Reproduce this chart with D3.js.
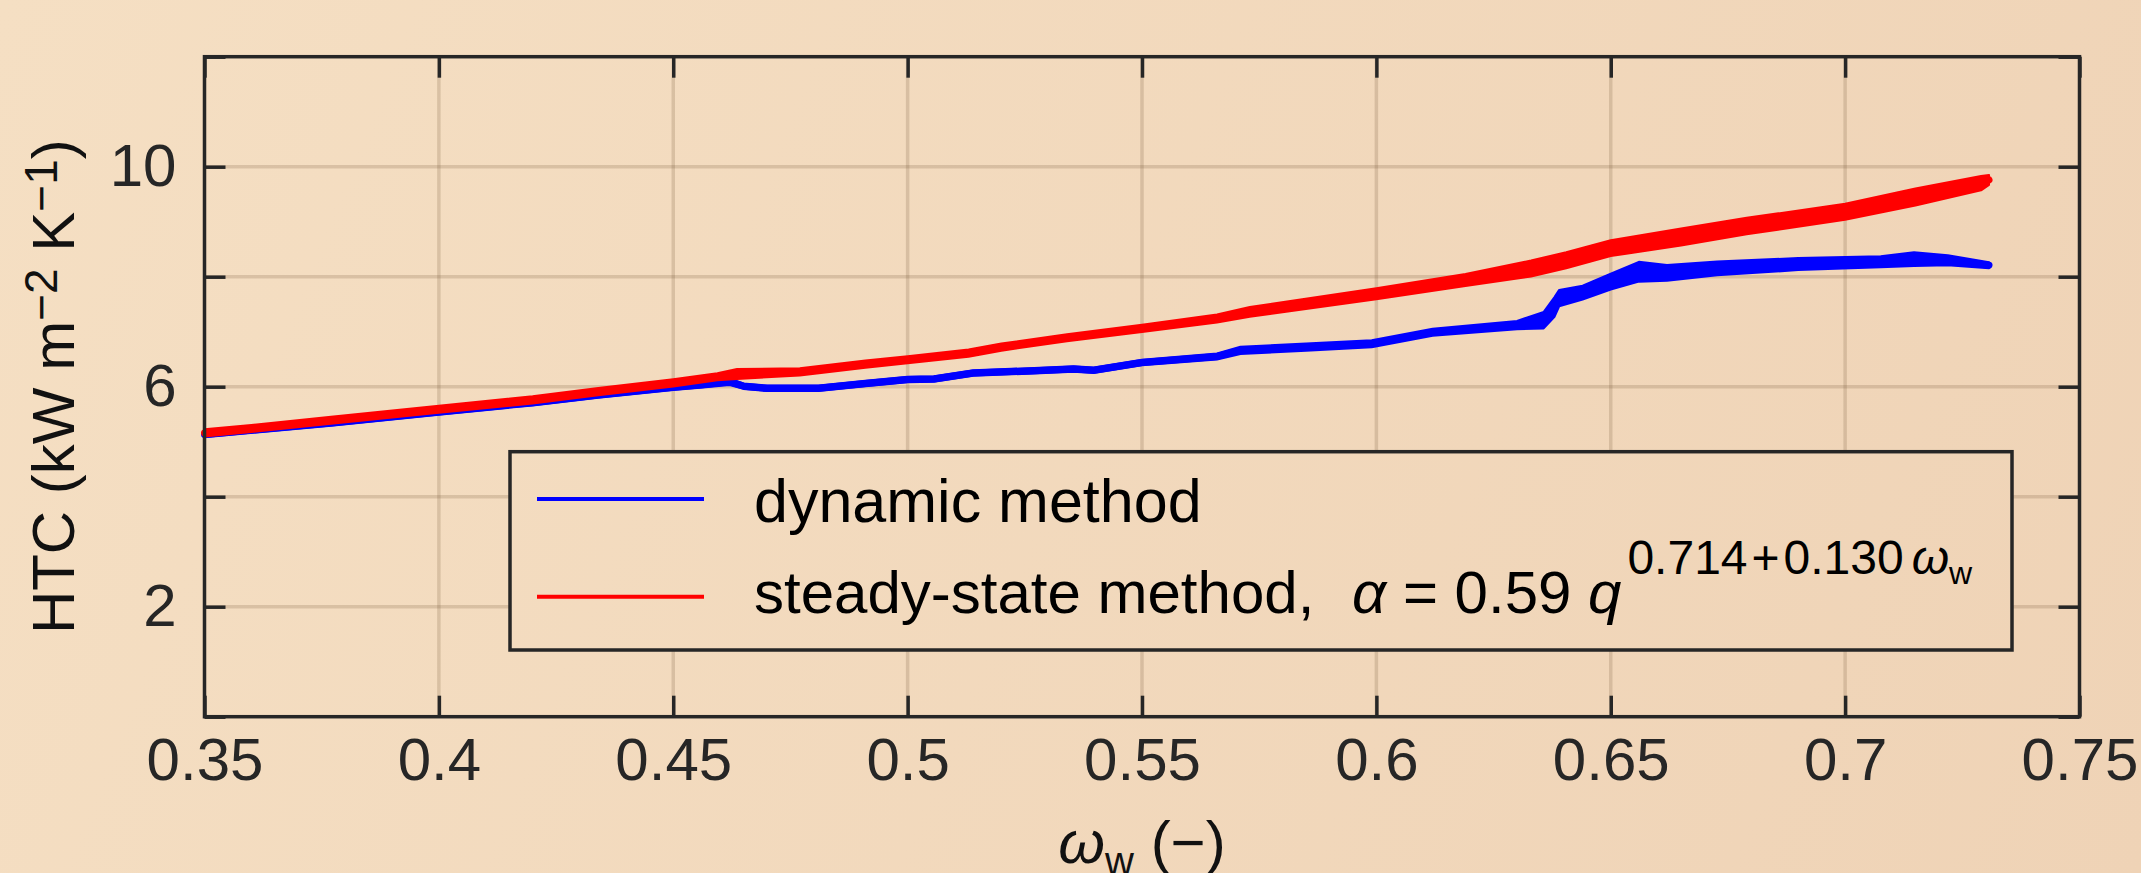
<!DOCTYPE html>
<html>
<head>
<meta charset="utf-8">
<script src="https://cdn.jsdelivr.net/npm/d3@7"></script>
<style>
  html, body { margin: 0; padding: 0; background: #f3dbbe; }
  svg { display: block; font-family: "Liberation Sans", Arial, sans-serif; }
</style>
</head>
<body>
<div id="chart"></div>
<script>
// x ticks (water mass fraction) and y ticks (HTC)
const xTicks = [0.35, 0.4, 0.45, 0.5, 0.55, 0.6, 0.65, 0.7, 0.75];
const xTickLabels = ['0.35', '0.4', '0.45', '0.5', '0.55', '0.6', '0.65', '0.7', '0.75'];
const yTicks = [0, 2, 4, 6, 8, 10, 12];
const yTickLabels = ['', '2', '', '6', '', '10', ''];

// steady-state method: [omega_w, HTC, band thickness]
const steadyState = [
  [0.350, 5.16, 0.13], [0.360, 5.24, 0.13], [0.377, 5.39, 0.13], [0.400, 5.59, 0.13],
  [0.420, 5.76, 0.13], [0.434, 5.91, 0.13], [0.450, 6.07, 0.13], [0.4594, 6.18, 0.13],
  [0.4636, 6.23, 0.18], [0.477, 6.27, 0.13], [0.491, 6.41, 0.13], [0.500, 6.49, 0.13],
  [0.513, 6.61, 0.13], [0.520, 6.72, 0.13], [0.534, 6.89, 0.13], [0.550, 7.06, 0.13],
  [0.566, 7.24, 0.15], [0.573, 7.36, 0.18], [0.600, 7.69, 0.20], [0.619, 7.94, 0.22],
  [0.633, 8.15, 0.29], [0.6405, 8.30, 0.29], [0.650, 8.52, 0.29], [0.665, 8.72, 0.31],
  [0.679, 8.92, 0.30], [0.700, 9.18, 0.29], [0.715, 9.45, 0.31], [0.729, 9.70, 0.26],
  [0.7307, 9.76, 0.18]
];

// dynamic method: [omega_w, HTC, band thickness]
const dynamic = [
  [0.350, 5.13, 0.10], [0.377, 5.34, 0.10], [0.400, 5.54, 0.10], [0.420, 5.71, 0.10],
  [0.434, 5.85, 0.10], [0.450, 5.99, 0.10], [0.4557, 6.03, 0.10], [0.462, 6.09, 0.12],
  [0.465, 6.01, 0.10], [0.470, 5.97, 0.10], [0.481, 5.97, 0.10], [0.491, 6.06, 0.10],
  [0.500, 6.13, 0.10], [0.5056, 6.14, 0.10], [0.514, 6.25, 0.10], [0.527, 6.29, 0.10],
  [0.5354, 6.32, 0.10], [0.5397, 6.30, 0.10], [0.550, 6.44, 0.10], [0.566, 6.55, 0.11],
  [0.571, 6.66, 0.13], [0.585, 6.72, 0.13], [0.599, 6.78, 0.13], [0.612, 6.99, 0.13],
  [0.630, 7.12, 0.15], [0.6357, 7.21, 0.30], [0.638, 7.45, 0.36], [0.639, 7.61, 0.30],
  [0.644, 7.71, 0.25], [0.650, 7.91, 0.29], [0.656, 8.09, 0.36], [0.662, 8.07, 0.29],
  [0.6727, 8.15, 0.25], [0.690, 8.23, 0.22], [0.7076, 8.27, 0.20], [0.7147, 8.32, 0.25],
  [0.7219, 8.30, 0.18], [0.7307, 8.21, 0.11]
];

const width = 2141, height = 873;
const svg = d3.select('#chart').append('svg')
    .attr('width', width)
    .attr('height', height);

// Fond en dégradé
const defs = svg.append('defs');
const grad = defs.append('linearGradient')
    .attr('id', 'bg')
    .attr('gradientUnits', 'userSpaceOnUse')
    .attr('x1', 0).attr('y1', 0).attr('x2', width).attr('y2', height);
grad.append('stop').attr('offset', 0).attr('stop-color', '#f5dfc3');
grad.append('stop').attr('offset', 1).attr('stop-color', '#efd3b6');
svg.append('rect').attr('width', width).attr('height', height).attr('fill', 'url(#bg)');

const x = d3.scaleLinear().domain([0.35, 0.75]).range([204.5, 2079.5]);
const y = d3.scaleLinear().domain([0, 12]).range([716.7, 56.7]);
const axisColor = '#262626';

// Grille
const grid = svg.append('g')
    .attr('stroke', 'rgba(110,80,50,0.2)')
    .attr('stroke-width', 3.5);
grid.selectAll('line.vx')
    .data(xTicks.slice(1, -1))
    .enter().append('line')
    .attr('x1', d => x(d)).attr('x2', d => x(d))
    .attr('y1', y(12)).attr('y2', y(0));
grid.selectAll('line.hy')
    .data(yTicks.slice(1, -1))
    .enter().append('line')
    .attr('y1', d => y(d)).attr('y2', d => y(d))
    .attr('x1', x(0.35)).attr('x2', x(0.75));

// Courbes : bande de bruit + ligne
function drawSeries(data, color) {
    const area = d3.area()
        .x(d => x(d[0]))
        .y0(d => y(d[1] - d[2] / 2))
        .y1(d => y(d[1] + d[2] / 2));
    const line = d3.line()
        .x(d => x(d[0]))
        .y(d => y(d[1]));
    svg.append('path')
        .datum(data)
        .attr('d', area)
        .attr('fill', color)
        .attr('stroke', color)
        .attr('stroke-width', 2)
        .attr('stroke-linejoin', 'round');
    svg.append('path')
        .datum(data)
        .attr('d', line)
        .attr('fill', 'none')
        .attr('stroke', color)
        .attr('stroke-width', 7)
        .attr('stroke-linejoin', 'round')
        .attr('stroke-linecap', 'round');
}
drawSeries(dynamic, '#0000ff');
drawSeries(steadyState, '#ff0000');

// Axes
function styleAxis(g) {
    g.select('.domain').remove();
    g.selectAll('.tick line').attr('stroke', axisColor).attr('stroke-width', 3.5);
    g.selectAll('.tick text')
        .attr('fill', axisColor)
        .style('font-size', '60px')
        .style('font-family', '"Liberation Sans", Arial, sans-serif');
}

svg.append('g')
    .attr('transform', `translate(0,${y(0)})`)
    .call(d3.axisBottom(x).tickValues(xTicks).tickSize(-21).tickPadding(21)
        .tickFormat((d, i) => xTickLabels[i]))
    .call(styleAxis);

svg.append('g')
    .attr('transform', `translate(0,${y(12)})`)
    .call(d3.axisTop(x).tickValues(xTicks).tickSize(-21).tickFormat(''))
    .call(styleAxis);

svg.append('g')
    .attr('transform', `translate(${x(0.35)},0)`)
    .call(d3.axisLeft(y).tickValues(yTicks).tickSize(-21).tickPadding(28)
        .tickFormat((d, i) => yTickLabels[i]))
    .call(styleAxis);

svg.append('g')
    .attr('transform', `translate(${x(0.75)},0)`)
    .call(d3.axisRight(y).tickValues(yTicks).tickSize(-21).tickFormat(''))
    .call(styleAxis);

// Cadre
svg.append('rect')
    .attr('x', x(0.35)).attr('y', y(12))
    .attr('width', x(0.75) - x(0.35))
    .attr('height', y(0) - y(12))
    .attr('fill', 'none')
    .attr('stroke', axisColor)
    .attr('stroke-width', 3.5);

// Titres des axes
const xLabel = svg.append('text')
    .attr('x', (x(0.35) + x(0.75)) / 2)
    .attr('y', 863)
    .attr('text-anchor', 'middle')
    .attr('fill', '#111')
    .style('font-size', '60px');
xLabel.append('tspan').style('font-style', 'italic').text('ω');
xLabel.append('tspan').attr('dy', 12).style('font-size', '40px').text('w');
xLabel.append('tspan').attr('dy', -12).text(' (−)');

const yLabel = svg.append('text')
    .attr('transform', `translate(74,${(y(0) + y(12)) / 2}) rotate(-90)`)
    .attr('text-anchor', 'middle')
    .attr('fill', '#111')
    .style('font-size', '60px');
yLabel.append('tspan').text('HTC (kW m');
yLabel.append('tspan').attr('dy', -17).style('font-size', '46px').text('−2');
yLabel.append('tspan').attr('dy', 17).text(' K');
yLabel.append('tspan').attr('dy', -17).style('font-size', '46px').text('−1');
yLabel.append('tspan').attr('dy', 17).text(')');

// Légende
const legend = svg.append('g');
legend.append('rect')
    .attr('x', 510).attr('y', 451.7)
    .attr('width', 1502).attr('height', 198.3)
    .attr('fill', 'url(#bg)')
    .attr('stroke', axisColor)
    .attr('stroke-width', 3.5);

const legendItems = [
    { color: '#0000ff', y: 499 },
    { color: '#ff0000', y: 596.7 }
];
legend.selectAll('line')
    .data(legendItems)
    .enter().append('line')
    .attr('x1', 537).attr('x2', 704)
    .attr('y1', d => d.y).attr('y2', d => d.y)
    .attr('stroke', d => d.color)
    .attr('stroke-width', 4);

legend.append('text')
    .attr('x', 754).attr('y', 521.7)
    .attr('fill', '#000')
    .style('font-size', '61px')
    .text('dynamic method');

const t2 = legend.append('text')
    .attr('x', 754).attr('y', 613)
    .attr('fill', '#000')
    .style('font-size', '60px');
t2.append('tspan').text('steady-state method,');
t2.append('tspan').attr('x', 1352).style('font-style', 'italic').text('α');
t2.append('tspan').text(' = 0.59 ');
t2.append('tspan').style('font-style', 'italic').text('q');
t2.append('tspan').attr('dy', -39).attr('dx', 6).style('font-size', '48px').text('0.714');
t2.append('tspan').attr('dx', 4).style('font-size', '48px').text('+');
t2.append('tspan').attr('dx', 4).style('font-size', '48px').text('0.130');
t2.append('tspan').attr('dx', 8).style('font-size', '48px').style('font-style', 'italic').text('ω');
t2.append('tspan').attr('dy', 10).style('font-size', '32px').text('w');
</script>
</body>
</html>
